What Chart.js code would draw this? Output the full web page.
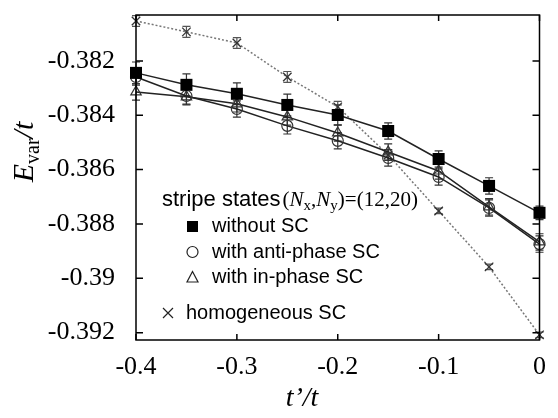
<!DOCTYPE html>
<html>
<head>
<meta charset="utf-8">
<script src="https://cdn.jsdelivr.net/npm/chart.js@4.4.0/dist/chart.umd.min.js"></script>
<style>
  html, body { margin: 0; padding: 0; background: #fff; }
  #wrap { width: 558px; height: 418px; }
</style>
</head>
<body>
<div id="wrap"><canvas id="c"></canvas></div>
<script>
// t'/t values
var tValues = [-0.4, -0.35, -0.3, -0.25, -0.2, -0.15, -0.1, -0.05, 0];

// E_var/t, stripe states (12,20)
var withoutSC   = [-0.38244, -0.38288, -0.38321, -0.38362, -0.38399, -0.38458, -0.38561, -0.38660, -0.38759];
var antiPhaseSC = [-0.38259, -0.38329, -0.38377, -0.38439, -0.38494, -0.38557, -0.38627, -0.38741, -0.38874];
var inPhaseSC   = [-0.38314, -0.38332, -0.38358, -0.38406, -0.38465, -0.38535, -0.38605, -0.38737, -0.38866];
var homogSC     = [-0.38053, -0.38093, -0.38134, -0.38259, -0.38369, -0.38546, -0.38752, -0.38958, -0.39208];

// error bars
var withoutErr = [0.0004, 0.0004, 0.0004, 0.0004, 0.00037, 0.0003, 0.0003, 0.0003, 0.00025];
var antiErr    = [0.0003, 0.0003, 0.0003, 0.0003, 0.0003, 0.0003, 0.0003, 0.0003, 0.0003];
var inErr      = [0.0003, 0.0003, 0.0003, 0.0003, 0.0003, 0.0003, 0.0003, 0.0003, 0.0003];
var homogErr   = [0.0002, 0.0002, 0.0002, 0.0002, 0.0002, 0.0002, 0.0001, 0.0001, 0.0001];

// tick labels
var xTicks = [-0.4, -0.3, -0.2, -0.1, 0];
var xTickLabels = ['-0.4', '-0.3', '-0.2', '-0.1', '0'];
var yTicks = [-0.382, -0.384, -0.386, -0.388, -0.39, -0.392];
var yTickLabels = ['-0.382', '-0.384', '-0.386', '-0.388', '-0.39', '-0.392'];

function pts(ys) {
  return tValues.map(function (t, i) { return { x: t, y: ys[i] }; });
}

function labelFor(v, ticks, labels) {
  for (var i = 0; i < ticks.length; i++) {
    if (Math.abs(ticks[i] - v) < 1e-9) return labels[i];
  }
  return '';
}

var errors = [homogErr, withoutErr, antiErr, inErr];

var decor = {
  id: 'decor',
  beforeDatasetsDraw: function (chart) {
    var ctx = chart.ctx, ys = chart.scales.y;
    ctx.save();
    chart.data.datasets.forEach(function (ds, di) {
      var meta = chart.getDatasetMeta(di);
      var err = errors[di];
      ctx.strokeStyle = di === 0 ? '#555' : '#333';
      ctx.lineWidth = 1.2;
      meta.data.forEach(function (el, i) {
        var v = ds.data[i].y;
        var y1 = ys.getPixelForValue(v + err[i]);
        var y2 = ys.getPixelForValue(v - err[i]);
        ctx.beginPath();
        ctx.moveTo(el.x, y1); ctx.lineTo(el.x, y2);
        ctx.moveTo(el.x - 4, y1); ctx.lineTo(el.x + 4, y1);
        ctx.moveTo(el.x - 4, y2); ctx.lineTo(el.x + 4, y2);
        ctx.stroke();
      });
    });
    ctx.restore();
  },
  afterDraw: function (chart) {
    var ctx = chart.ctx, a = chart.chartArea;
    var xs = chart.scales.x, ys = chart.scales.y;
    ctx.save();
    // frame
    ctx.strokeStyle = '#000';
    ctx.lineWidth = 1.5;
    ctx.strokeRect(a.left, a.top, a.right - a.left, a.bottom - a.top);
    // inward ticks
    ctx.beginPath();
    xTicks.forEach(function (v) {
      var p = xs.getPixelForValue(v);
      ctx.moveTo(p, a.bottom); ctx.lineTo(p, a.bottom - 6);
      ctx.moveTo(p, a.top); ctx.lineTo(p, a.top + 6);
    });
    yTicks.forEach(function (v) {
      var p = ys.getPixelForValue(v);
      ctx.moveTo(a.left, p); ctx.lineTo(a.left + 7, p);
      ctx.moveTo(a.right, p); ctx.lineTo(a.right - 7, p);
    });
    ctx.stroke();

    // axis titles
    ctx.fillStyle = '#000';
    ctx.textBaseline = 'alphabetic';
    ctx.font = 'italic 28px "Liberation Serif"';
    ctx.textAlign = 'center';
    ctx.fillText('t\u2019/t', 302, 406);

    ctx.save();
    ctx.translate(33, 152);
    ctx.rotate(-Math.PI / 2);
    ctx.textAlign = 'left';
    var parts = [
      ['italic 30px "Liberation Serif"', 'E', 0],
      ['20px "Liberation Serif"', 'var', 6],
      ['italic 30px "Liberation Serif"', '/t', 0]
    ];
    var w = 0;
    parts.forEach(function (p) { ctx.font = p[0]; w += ctx.measureText(p[1]).width; });
    var px = -w / 2;
    parts.forEach(function (p) {
      ctx.font = p[0];
      ctx.fillText(p[1], px, p[2]);
      px += ctx.measureText(p[1]).width;
    });
    ctx.restore();

    // legend
    ctx.textAlign = 'left';
    ctx.font = '22px "Liberation Sans"';
    ctx.fillText('stripe states', 162, 206);
    var seg = [
      ['21px "Liberation Serif"', '(', 0],
      ['italic 21px "Liberation Serif"', 'N', 0],
      ['15px "Liberation Serif"', 'x', 4],
      ['21px "Liberation Serif"', ',', 0],
      ['italic 21px "Liberation Serif"', 'N', 0],
      ['15px "Liberation Serif"', 'y', 4],
      ['21px "Liberation Serif"', ')=(12,20)', 0]
    ];
    var sx = 162 + ctx.measureText('stripe states').width + 2;
    seg.forEach(function (s) {
      ctx.font = s[0];
      ctx.fillText(s[1], sx, 206 + s[2]);
      sx += ctx.measureText(s[1]).width;
    });

    ctx.font = '20px "Liberation Sans"';
    ctx.fillText('without SC', 212, 232);
    ctx.fillText('with anti-phase SC', 212, 258);
    ctx.fillText('with in-phase SC', 212, 283);
    ctx.fillText('homogeneous SC', 186, 319);

    // legend markers
    ctx.fillStyle = '#000';
    ctx.fillRect(187, 221, 11, 11);
    ctx.strokeStyle = '#222';
    ctx.lineWidth = 1.2;
    ctx.beginPath();
    ctx.arc(192.5, 252, 5.5, 0, Math.PI * 2);
    ctx.stroke();
    ctx.beginPath();
    ctx.moveTo(192.5, 271.5); ctx.lineTo(198, 282); ctx.lineTo(187, 282); ctx.closePath();
    ctx.stroke();
    ctx.beginPath();
    ctx.moveTo(163, 308); ctx.lineTo(173, 318);
    ctx.moveTo(173, 308); ctx.lineTo(163, 318);
    ctx.stroke();
    ctx.restore();
  }
};

var ctx = document.getElementById('c').getContext('2d');
var chart = new Chart(ctx, {
  type: 'line',
  data: {
    datasets: [{
      label: 'homogeneous SC',
      data: pts(homogSC),
      borderColor: '#777',
      borderWidth: 1.5,
      borderDash: [2, 2],
      pointStyle: 'crossRot',
      pointRadius: 6,
      pointBorderColor: '#333',
      pointBorderWidth: 1.3,
      order: 4
    }, {
      label: 'without SC',
      data: pts(withoutSC),
      borderColor: '#222',
      borderWidth: 1.5,
      pointStyle: 'rect',
      pointRadius: 8.5,
      pointBackgroundColor: '#000',
      pointBorderColor: '#000',
      pointBorderWidth: 0,
      order: 1
    }, {
      label: 'with anti-phase SC',
      data: pts(antiPhaseSC),
      borderColor: '#222',
      borderWidth: 1.5,
      pointStyle: 'circle',
      pointRadius: 5.5,
      pointBackgroundColor: 'rgba(0,0,0,0)',
      pointBorderColor: '#333',
      pointBorderWidth: 1.2,
      order: 2
    }, {
      label: 'with in-phase SC',
      data: pts(inPhaseSC),
      borderColor: '#222',
      borderWidth: 1.5,
      pointStyle: 'triangle',
      pointRadius: 6,
      pointBackgroundColor: 'rgba(0,0,0,0)',
      pointBorderColor: '#333',
      pointBorderWidth: 1.2,
      order: 3
    }]
  },
  options: {
    responsive: true,
    maintainAspectRatio: false,
    animation: false,
    clip: false,
    layout: { padding: { left: 0, right: 18.5, top: 15, bottom: 0 } },
    plugins: { legend: { display: false }, tooltip: { enabled: false } },
    scales: {
      x: {
        type: 'linear',
        min: -0.4,
        max: 0,
        grid: { display: false },
        border: { display: false },
        afterBuildTicks: function (s) { s.ticks = xTicks.map(function (v) { return { value: v }; }); },
        afterFit: function (s) { s.height = 78; s.paddingLeft = 0; s.paddingRight = 0; },
        ticks: {
          padding: 4,
          color: '#000',
          font: { family: 'Liberation Serif', size: 26 },
          maxRotation: 0,
          callback: function (v) { return labelFor(v, xTicks, xTickLabels); }
        }
      },
      y: {
        type: 'linear',
        min: -0.39227,
        max: -0.38031,
        grid: { display: false },
        border: { display: false },
        afterBuildTicks: function (s) { s.ticks = yTicks.map(function (v) { return { value: v }; }); },
        afterFit: function (s) { s.width = 136; s.paddingTop = 0; s.paddingBottom = 0; },
        ticks: {
          padding: 13,
          color: '#000',
          font: { family: 'Liberation Serif', size: 26 },
          callback: function (v) { return labelFor(v, yTicks, yTickLabels); }
        }
      }
    }
  },
  plugins: [decor]
});
</script>
</body>
</html>
